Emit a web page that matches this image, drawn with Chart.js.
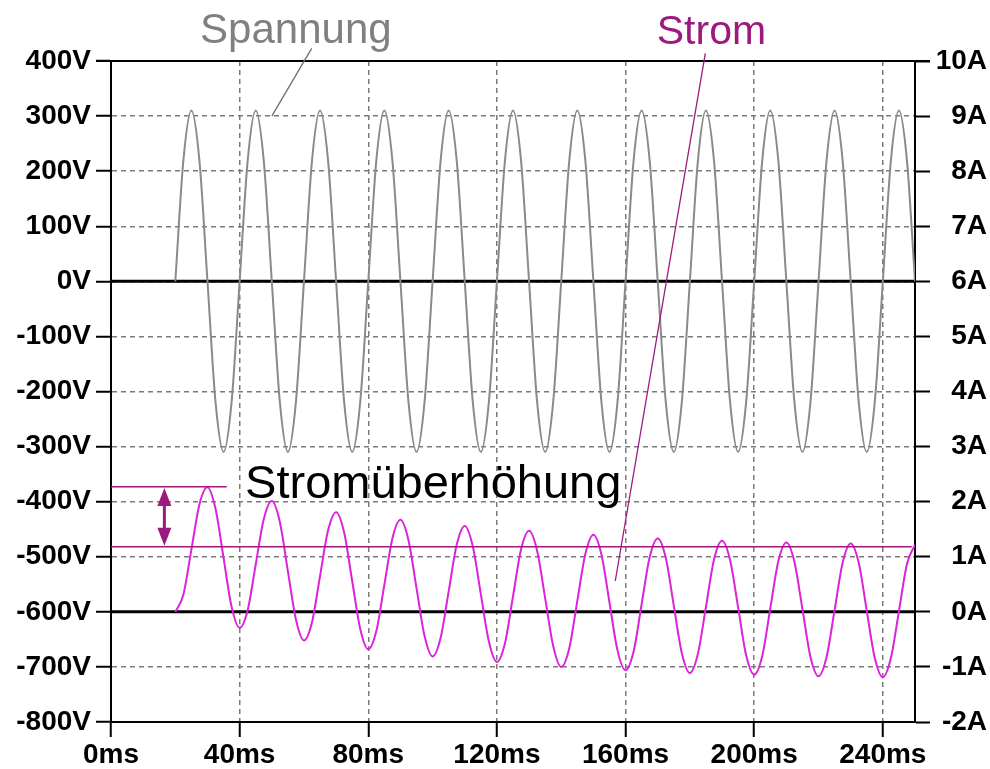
<!DOCTYPE html>
<html>
<head>
<meta charset="utf-8">
<script src="https://cdn.jsdelivr.net/npm/chart.js@4.4.1/dist/chart.umd.min.js"></script>
<style>
  html, body { margin: 0; padding: 0; background: #fff; }
  #wrap { width: 990px; height: 769px; position: relative; }
</style>
</head>
<body>
<div id="wrap"><canvas id="chart"></canvas></div>
<script>
// Zeitachse in ms (Einschalten bei 20 ms)
const timeMs = [
  20, 22.5, 25, 27.5, 30, 32.5, 35, 37.5,
  40, 42.5, 45, 47.5, 50, 52.5, 55, 57.5,
  60, 62.5, 65, 67.5, 70, 72.5, 75, 77.5,
  80, 82.5, 85, 87.5, 90, 92.5, 95, 97.5,
  100, 102.5, 105, 107.5, 110, 112.5, 115, 117.5,
  120, 122.5, 125, 127.5, 130, 132.5, 135, 137.5,
  140, 142.5, 145, 147.5, 150, 152.5, 155, 157.5,
  160, 162.5, 165, 167.5, 170, 172.5, 175, 177.5,
  180, 182.5, 185, 187.5, 190, 192.5, 195, 197.5,
  200, 202.5, 205, 207.5, 210, 212.5, 215, 217.5,
  220, 222.5, 225, 227.5, 230, 232.5, 235, 237.5,
  240, 242.5, 245, 247.5, 250
];

// Spannung in V
const spannung = [
  0, 219, 310, 219, 0, -219, -310, -219,
  0, 219, 310, 219, 0, -219, -310, -219,
  0, 219, 310, 219, 0, -219, -310, -219,
  0, 219, 310, 219, 0, -219, -310, -219,
  0, 219, 310, 219, 0, -219, -310, -219,
  0, 219, 310, 219, 0, -219, -310, -219,
  0, 219, 310, 219, 0, -219, -310, -219,
  0, 219, 310, 219, 0, -219, -310, -219,
  0, 219, 310, 219, 0, -219, -310, -219,
  0, 219, 310, 219, 0, -219, -310, -219,
  0, 219, 310, 219, 0, -219, -310, -219,
  0, 219, 310, 219, 0
];

// Strom in A
const strom = [
  0.00, 0.31, 1.13, 1.95, 2.26, 1.87, 0.98, 0.09,
  -0.29, 0.03, 0.86, 1.68, 2.01, 1.63, 0.74, -0.14,
  -0.52, -0.19, 0.65, 1.48, 1.81, 1.44, 0.56, -0.31,
  -0.68, -0.35, 0.49, 1.33, 1.67, 1.30, 0.43, -0.44,
  -0.81, -0.47, 0.37, 1.22, 1.56, 1.19, 0.32, -0.54,
  -0.91, -0.57, 0.28, 1.13, 1.47, 1.11, 0.25, -0.62,
  -1.00, -0.66, 0.20, 1.05, 1.40, 1.04, 0.17, -0.70,
  -1.06, -0.72, 0.14, 0.99, 1.33, 0.98, 0.11, -0.75,
  -1.11, -0.76, 0.09, 0.95, 1.29, 0.94, 0.08, -0.79,
  -1.14, -0.80, 0.06, 0.92, 1.26, 0.91, 0.05, -0.82,
  -1.17, -0.82, 0.03, 0.89, 1.24, 0.89, 0.02, -0.84,
  -1.19, -0.84, 0.01, 0.87, 1.22
];

// Achsen
const voltTicks = [-800, -700, -600, -500, -400, -300, -200, -100, 0, 100, 200, 300, 400];
const ampTicks = [-2, -1, 0, 1, 2, 3, 4, 5, 6, 7, 8, 9, 10];
const timeTicks = [0, 40, 80, 120, 160, 200, 240];

const purple = '#9c1a80';
const tickFont = { family: '"Liberation Sans", Arial, sans-serif', size: 28, weight: 'bold' };

// Nulllinien, Rahmen und Beschriftungen
const overlay = {
  id: 'overlay',
  beforeDatasetsDraw(chart) {
    const { ctx, chartArea: a, scales: { x, y, y1 } } = chart;
    ctx.save();
    ctx.strokeStyle = '#000';
    ctx.lineWidth = 3;
    [y.getPixelForValue(0), y1.getPixelForValue(0)].forEach(py => {
      ctx.beginPath();
      ctx.moveTo(a.left, py);
      ctx.lineTo(a.right, py);
      ctx.stroke();
    });
    ctx.lineWidth = 2;
    ctx.beginPath();
    ctx.moveTo(a.left - 15, a.top);
    ctx.lineTo(a.right + 15, a.top);
    ctx.stroke();
    ctx.restore();
  },
  afterDatasetsDraw(chart) {
    const { ctx, scales: { x, y, y1 } } = chart;
    const line = (x0, y0, x2, y2) => {
      ctx.beginPath();
      ctx.moveTo(x0, y0);
      ctx.lineTo(x2, y2);
      ctx.stroke();
    };
    ctx.save();

    // Stromüberhöhung: Markierungslinien
    ctx.strokeStyle = purple;
    ctx.lineWidth = 1.5;
    line(x.getPixelForValue(0), y1.getPixelForValue(2.27), x.getPixelForValue(36), y1.getPixelForValue(2.27));
    line(x.getPixelForValue(0), y1.getPixelForValue(1.18), x.getPixelForValue(249), y1.getPixelForValue(1.18));

    // Doppelpfeil
    const ax = x.getPixelForValue(16.6);
    const yt = y1.getPixelForValue(2.25), yb = y1.getPixelForValue(1.2);
    ctx.fillStyle = purple;
    ctx.lineWidth = 3;
    line(ax, yt + 10, ax, yb - 10);
    ctx.beginPath();
    ctx.moveTo(ax, yt); ctx.lineTo(ax - 7, yt + 18); ctx.lineTo(ax + 7, yt + 18); ctx.closePath(); ctx.fill();
    ctx.beginPath();
    ctx.moveTo(ax, yb); ctx.lineTo(ax - 7, yb - 18); ctx.lineTo(ax + 7, yb - 18); ctx.closePath(); ctx.fill();

    // Hinweislinien
    ctx.lineWidth = 1.3;
    ctx.strokeStyle = '#6e6e6e';
    line(x.getPixelForValue(62.4), y.getPixelForValue(423), x.getPixelForValue(50), y.getPixelForValue(300));
    ctx.strokeStyle = purple;
    line(x.getPixelForValue(184.8), y1.getPixelForValue(10.14), x.getPixelForValue(156.8), y1.getPixelForValue(0.56));

    // Texte
    ctx.textAlign = 'left';
    ctx.textBaseline = 'alphabetic';
    ctx.font = '42px "Liberation Sans", Arial, sans-serif';
    ctx.fillStyle = '#808080';
    ctx.fillText('Spannung', x.getPixelForValue(27.7), y.getPixelForValue(432));
    ctx.font = '41px "Liberation Sans", Arial, sans-serif';
    ctx.fillStyle = purple;
    ctx.fillText('Strom', x.getPixelForValue(169.7), y1.getPixelForValue(10.31));
    ctx.font = '47px "Liberation Sans", Arial, sans-serif';
    ctx.fillStyle = '#000';
    ctx.fillText('Stromüberhöhung', x.getPixelForValue(41.7), y.getPixelForValue(-393));
    ctx.restore();
  }
};

new Chart(document.getElementById('chart'), {
  type: 'line',
  data: {
    datasets: [{
      label: 'Spannung',
      data: timeMs.map((t, i) => ({ x: t, y: spannung[i] })),
      borderColor: '#8a8a8a',
      borderWidth: 2,
      pointRadius: 0,
      cubicInterpolationMode: 'monotone',
      yAxisID: 'y'
    }, {
      label: 'Strom',
      data: timeMs.map((t, i) => ({ x: t, y: strom[i] })),
      borderColor: '#dc22dc',
      borderWidth: 2,
      pointRadius: 0,
      cubicInterpolationMode: 'monotone',
      yAxisID: 'y1'
    }]
  },
  options: {
    responsive: true,
    maintainAspectRatio: false,
    animation: false,
    layout: { padding: { top: 61, right: 3, left: 0, bottom: 0 } },
    plugins: { legend: { display: false }, tooltip: { enabled: false } },
    scales: {
      x: {
        type: 'linear',
        min: 0,
        max: 250,
        afterBuildTicks: s => { s.ticks = timeTicks.map(v => ({ value: v })); },
        afterFit: s => { s.height = 47; },
        ticks: { font: tickFont, color: '#000', padding: 1, maxRotation: 0, autoSkip: false, callback: v => v + 'ms' },
        grid: { color: '#7a7a7a', lineWidth: 1.5, tickColor: '#000', tickWidth: 2, tickLength: 15 },
        border: { color: '#000', width: 2, dash: [5, 4] }
      },
      y: {
        position: 'left',
        min: -800,
        max: 400,
        afterBuildTicks: s => { s.ticks = voltTicks.map(v => ({ value: v })); },
        afterFit: s => { s.width = 111; },
        ticks: { font: tickFont, color: '#000', padding: 5, callback: v => v + 'V' },
        grid: { color: '#7a7a7a', lineWidth: 1.5, tickColor: '#000', tickWidth: 2, tickLength: 15 },
        border: { color: '#000', width: 2, dash: [5, 4] }
      },
      y1: {
        position: 'right',
        min: -2,
        max: 10,
        afterBuildTicks: s => { s.ticks = ampTicks.map(v => ({ value: v })); },
        afterFit: s => { s.width = 72; },
        ticks: { font: tickFont, color: '#000', padding: 5, crossAlign: 'far', callback: v => v + 'A' },
        grid: { drawOnChartArea: false, tickColor: '#000', tickWidth: 2, tickLength: 15 },
        border: { color: '#000', width: 2 }
      }
    }
  },
  plugins: [overlay]
});
</script>
</body>
</html>
